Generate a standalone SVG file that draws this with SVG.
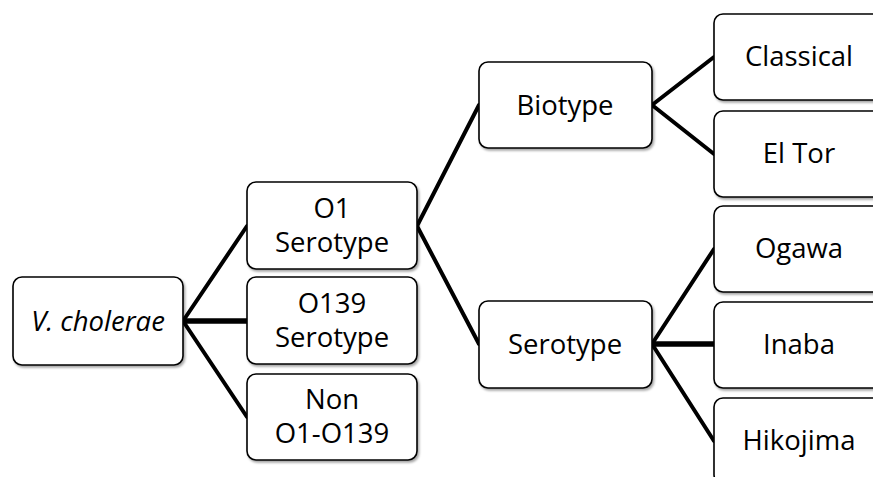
<svg xmlns="http://www.w3.org/2000/svg" width="873" height="477" viewBox="0 0 873 477">
<style>
.box{fill:#fff;stroke:#000;stroke-width:1.6;filter:url(#sh)}
.t{font-family:"Open Sans","Liberation Sans",sans-serif;font-size:27.5px;fill:#000;text-anchor:middle}
.c{stroke:#000;stroke-width:4;fill:none;stroke-linecap:round}
.h{stroke-width:5.5}
</style>
<defs>
<filter id="sh" x="-10%" y="-10%" width="130%" height="140%">
<feDropShadow dx="1.5" dy="2" stdDeviation="1.2" flood-color="#000" flood-opacity="0.35"/>
</filter>
</defs>
<rect width="873" height="477" fill="#fff"/>
<g id="connectors">
<path class="c" d="M183 321 L247 226"/>
<path class="c h" d="M183 321 L247 321"/>
<path class="c" d="M183 321 L247 417"/>
<path class="c" d="M417 226 L479 105"/>
<path class="c" d="M417 226 L479 344"/>
<path class="c" d="M652 105 L714 57"/>
<path class="c" d="M652 105 L714 154"/>
<path class="c" d="M652 344 L714 249"/>
<path class="c h" d="M652 344 L714 344"/>
<path class="c" d="M652 344 L714 441"/>
</g>
<g id="vcholerae"><rect class="box" x="13" y="277" width="170" height="88" rx="9"/><text class="t" x="98" y="331" font-style="italic">V. cholerae</text></g>
<g id="o1"><rect class="box" x="247" y="182" width="170" height="87" rx="9"/><text class="t" x="332" y="218">O1</text><text class="t" x="332" y="252">Serotype</text></g>
<g id="o139"><rect class="box" x="247" y="277" width="170" height="87" rx="9"/><text class="t" x="332" y="313">O139</text><text class="t" x="332" y="347">Serotype</text></g>
<g id="non"><rect class="box" x="247" y="374" width="170" height="86" rx="9"/><text class="t" x="332" y="409">Non</text><text class="t" x="332" y="443">O1-O139</text></g>
<g id="biotype"><rect class="box" x="479" y="62" width="173" height="86" rx="9"/><text class="t" x="565" y="115">Biotype</text></g>
<g id="serotype"><rect class="box" x="479" y="301" width="173" height="87" rx="9"/><text class="t" x="565" y="354">Serotype</text></g>
<g id="classical"><rect class="box" x="714" y="14" width="170" height="86" rx="9"/><text class="t" x="799" y="66">Classical</text></g>
<g id="eltor"><rect class="box" x="714" y="111" width="170" height="86" rx="9"/><text class="t" x="799" y="163">El Tor</text></g>
<g id="ogawa"><rect class="box" x="714" y="206" width="170" height="86" rx="9"/><text class="t" x="799" y="258">Ogawa</text></g>
<g id="inaba"><rect class="box" x="714" y="302" width="170" height="86" rx="9"/><text class="t" x="799" y="354">Inaba</text></g>
<g id="hikojima"><rect class="box" x="714" y="398" width="170" height="86" rx="9"/><text class="t" x="799" y="450">Hikojima</text></g>
</svg>
